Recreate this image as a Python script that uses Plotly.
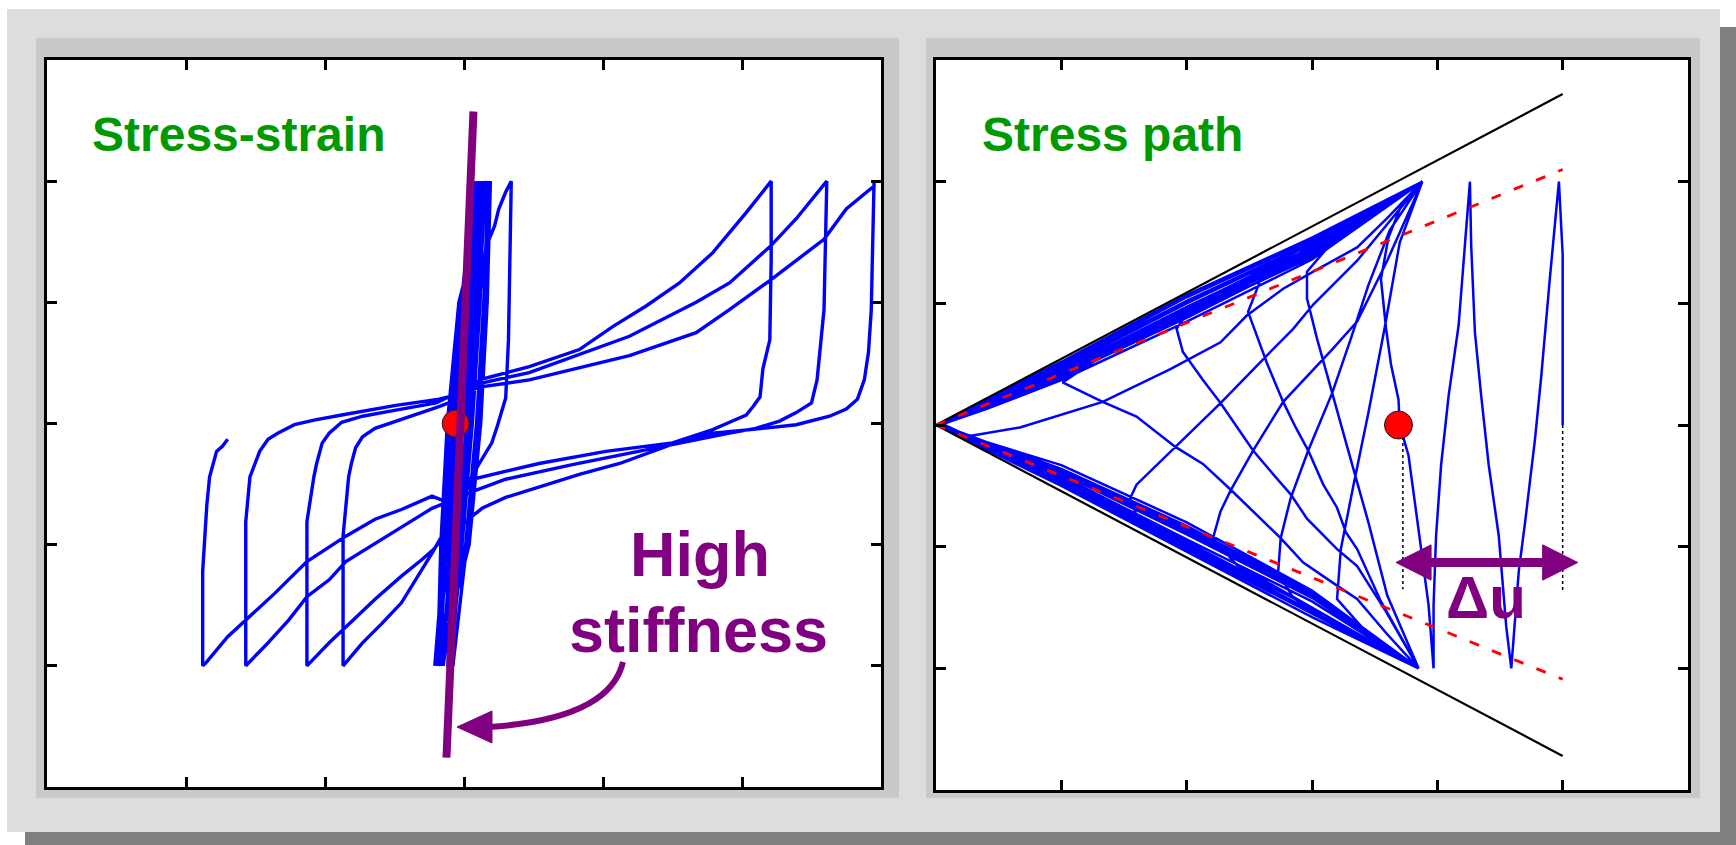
import plotly.graph_objects as go

FIG_W, FIG_H = 1736, 845

# ---------------- Stress-strain panel: shear strain vs shear stress ----------------
# early, small-strain cycles (stiff core of the response)
core_strain = [0.000, 0.065, 0.130,
               0.031, -0.040, -0.099, -0.150,
               -0.022, 0.050, 0.108, 0.155,
               -0.003, -0.080, -0.133, -0.170,
               0.012, 0.090, 0.142, 0.175,
               -0.029, -0.110, -0.159, -0.185,
               0.037, 0.120, 0.167, 0.190,
               -0.037, -0.120, -0.167, -0.190,
               -0.048, 0.020, 0.082, 0.140,
               0.116, 0.060, -0.014, -0.100,
               -0.116, -0.060, 0.014, 0.100,
               0.150, 0.100, 0.020, -0.080,
               -0.150, -0.100, -0.020, 0.080,
               0.090, 0.030, -0.040, -0.115,
               -0.082, -0.020, 0.048, 0.120,
               0.006, -0.070, -0.125, -0.210,
               -0.140, -0.070]
core_stress = [0.0, 1.0, 2.0,
               1.0, 0.0, -1.0, -2.0,
               -1.0, 0.0, 1.0, 2.0,
               1.0, 0.0, -1.0, -2.0,
               -1.0, 0.0, 1.0, 2.0,
               1.0, 0.0, -1.0, -2.0,
               -1.0, 0.0, 1.0, 2.0,
               1.0, 0.0, -1.0, -2.0,
               -1.0, 0.0, 1.0, 2.0,
               1.0, 0.0, -1.0, -2.0,
               -1.0, 0.0, 1.0, 2.0,
               1.0, 0.0, -1.0, -2.0,
               -1.0, 0.0, 1.0, 2.0,
               1.0, 0.0, -1.0, -2.0,
               -1.0, 0.0, 1.0, 2.0,
               1.0, 0.0, -1.0, -2.0,
               -1.0, 0.0]

loop0_strain = [-0.07, 0.06, 0.12, 0.17, 0.22, 0.25, 0.30, 0.34,
                0.33, 0.32, 0.30, 0.27, 0.24, 0.20, 0.14, 0.11,
                0.00, -0.12, -0.23, -0.33, -0.45, -0.59, -0.73, -0.87,
                -0.87, -0.83, -0.81, -0.78, -0.73, -0.64, -0.49, -0.30, -0.18, 0.00, 0.11]
loop0_stress = [0.00, 0.60, 1.20, 1.49, 1.63, 1.77, 1.91, 2.00,
                1.30, 0.69, 0.21, 0.09, -0.02, -0.16, -0.27, -0.33,
                -0.55, -0.85, -1.07, -1.26, -1.48, -1.65, -1.81, -2.00,
                -0.93, -0.44, -0.33, -0.20, -0.11, -0.04, 0.02, 0.09, 0.14, 0.22, 0.36]

loop1_strain = [0.11, 0.47, 0.83, 1.07, 1.31, 1.55, 1.79, 2.03, 2.21,
                2.21, 2.20, 2.15, 2.13, 2.08, 2.03, 1.91, 1.79, 1.50, 1.02, 0.54, 0.06,
                -0.05, -0.12, -0.22, -0.30, -0.45, -0.64, -0.85, -0.97, -1.13,
                -1.13, -1.08, -1.06, -1.02, -0.97, -0.88, -0.73, -0.54, -0.35, -0.20, 0.00, 0.11]
loop1_stress = [0.36, 0.47, 0.61, 0.80, 0.97, 1.16, 1.41, 1.74, 2.00,
                1.36, 0.69, 0.45, 0.22, 0.14, 0.07, 0.01, -0.05, -0.16, -0.23, -0.33, -0.46,
                -0.70, -0.90, -1.04, -1.12, -1.26, -1.45, -1.68, -1.81, -2.00,
                -0.81, -0.44, -0.33, -0.16, -0.08, 0.01, 0.06, 0.10, 0.14, 0.17, 0.28, 0.33]

loop2_strain = [0.11, 0.47, 1.19, 1.67, 1.91, 2.21, 2.39, 2.61,
                2.59, 2.56, 2.54, 2.50, 2.39, 2.27, 2.10, 1.91, 1.26, 0.78, 0.30, 0.04,
                -0.10, -0.23, -0.40, -0.64, -0.85, -0.97, -1.13, -1.26, -1.41, -1.57,
                -1.57, -1.54, -1.50, -1.47, -1.41, -1.34, -1.22, -1.07, -0.88, -0.73,
                -0.61, -0.49, -0.30, -0.18, 0.00, 0.11]
loop2_stress = [0.33, 0.42, 0.72, 1.00, 1.16, 1.47, 1.69, 2.00,
                0.94, 0.59, 0.36, 0.17, 0.09, 0.02, -0.04, -0.08, -0.23, -0.34, -0.46, -0.57,
                -0.64, -0.70, -0.82, -0.99, -1.14, -1.29, -1.43, -1.62, -1.81, -2.00,
                -0.81, -0.44, -0.33, -0.23, -0.13, -0.08, -0.01, 0.03, 0.07, 0.10,
                0.13, 0.15, 0.18, 0.20, 0.25, 0.30]

loop3_strain = [0.11, 0.47, 1.19, 1.67, 1.91, 2.20, 2.59, 2.75, 2.95, 2.95,
                2.93, 2.91, 2.88, 2.83, 2.75, 2.63, 2.39, 2.15, 1.79, 1.50, 1.12, 0.83,
                0.54, 0.30, 0.13, 0.01,
                -0.10, -0.23, -0.45, -0.64, -0.85, -1.13, -1.36, -1.56, -1.70, -1.86, -1.88,
                -1.88, -1.85, -1.83, -1.80, -1.78, -1.74, -1.70]
loop3_stress = [0.30, 0.36, 0.56, 0.75, 0.94, 1.18, 1.52, 1.77, 1.96, 2.00,
                0.94, 0.59, 0.36, 0.20, 0.12, 0.06, -0.01, -0.04, -0.08, -0.17, -0.33, -0.42,
                -0.52, -0.61, -0.70, -0.81,
                -0.66, -0.60, -0.71, -0.79, -0.93, -1.14, -1.40, -1.61, -1.76, -1.98, -2.00,
                -1.22, -0.67, -0.44, -0.32, -0.23, -0.19, -0.13]

# marked state and the tangent stiffness through it
state_strain, state_stress = -0.06, 0.0
stiffness_strain = [0.068, -0.126]
stiffness_stress = [2.575, -2.758]

# ---------------- Stress-path panel: mean effective stress p' vs deviator q ----------------
early_p = [5.00, 5.00, 4.97, 4.94, 4.90, 4.83, 4.78, 4.70, 4.65, 4.59,
           4.55, 4.49, 4.41, 4.35, 4.30, 4.27, 4.26, 4.22, 4.17, 4.09, 4.03, 3.99, 3.97, 3.97,
           3.93, 3.85, 3.77, 3.70, 3.69, 3.63, 3.59, 3.55, 3.61, 3.71, 3.88]
early_q = [0.00, 1.40, 2.00, 1.69, 1.23, 0.41, -0.11, -0.80, -1.20, -2.00,
           -1.66, -0.91, -0.33, 0.24, 0.76, 1.48, 2.00, 1.48, 0.82, 0.24, -0.33, -0.91, -1.48, -2.00,
           -1.48, -0.86, -0.25, 0.00, 0.21, 0.50, 0.80, 1.20, 1.54, 1.80, 2.00]

lattice_p = [3.50, 3.20, 2.96, 2.96, 3.04, 3.16, 3.30, 3.45, 3.60, 3.85,
             3.50, 3.20, 3.23, 3.33, 3.45, 3.58, 3.70, 3.88,
             3.30, 2.80, 2.60, 2.49, 2.56, 2.64, 2.77, 2.87, 2.97, 3.09, 3.20, 3.27, 3.36, 3.55, 3.85,
             3.30, 2.85, 2.73, 2.75, 2.83, 2.97, 3.16, 3.31, 3.45, 3.62, 3.88,
             3.20, 2.50, 2.05, 1.92, 1.97, 2.13, 2.27, 2.40, 2.53, 2.67, 2.83, 2.96, 3.20, 3.36, 3.60, 3.85,
             3.00, 2.40, 2.21, 2.27, 2.35, 2.53, 2.77, 3.16, 3.36, 3.60, 3.88,
             3.00, 2.00, 1.30, 1.01, 1.33, 1.60, 1.91, 2.13, 2.35, 2.75, 2.93, 3.20, 3.36, 3.60, 3.85,
             3.00, 2.00, 1.62, 1.55, 1.60, 1.91, 2.27, 2.61, 2.85, 3.01, 3.36, 3.60, 3.88]
lattice_q = [1.78, 1.55, 1.26, 1.04, 0.71, 0.26, -0.25, -0.80, -1.40, -2.00,
             -1.78, -1.43, -1.02, -0.50, 0.10, 0.80, 1.50, 2.00,
             1.66, 1.35, 1.22, 0.93, 0.74, 0.51, 0.19, -0.02, -0.21, -0.49, -0.68, -0.88, -1.02, -1.45, -2.00,
             -1.72, -1.42, -1.21, -0.93, -0.60, -0.21, 0.26, 0.71, 1.15, 1.60, 2.00,
             1.60, 1.22, 0.99, 0.79, 0.60, 0.37, 0.18, -0.02, -0.21, -0.38, -0.57, -0.77, -1.02, -1.16, -1.55, -2.00,
             -1.50, -1.15, -0.93, -0.71, -0.54, -0.21, 0.19, 0.62, 0.85, 1.35, 2.00,
             1.45, 0.90, 0.55, 0.35, 0.19, 0.07, -0.18, -0.32, -0.53, -0.93, -1.13, -1.32, -1.43, -1.72, -2.00,
             -1.55, -1.00, -0.80, -0.60, -0.49, -0.18, 0.18, 0.54, 0.79, 0.99, 1.35, 1.65, 2.00]

butterfly_p = [3.00, 2.00, 1.00, 0.40, 0.05, 0.40, 1.00, 2.00, 3.00, 3.85,
               3.00, 2.00, 1.00, 0.45, 0.21, 0.67, 1.07, 1.33, 1.87, 2.27, 2.48, 2.77, 3.01, 3.36, 3.60, 3.88,
               3.00, 2.00, 1.00, 0.40, 0.04, 0.40, 1.00, 2.00, 3.00, 3.85,
               3.00, 2.00, 1.00, 0.40, 0.04, 0.40, 1.00, 2.00, 3.00, 3.88,
               3.00, 2.00, 1.00, 0.40, 0.03, 0.40, 1.00, 2.00, 3.00, 3.85,
               3.00, 2.00, 1.00, 0.40, 0.03, 0.40, 1.00, 2.00, 3.00, 3.88,
               3.00, 2.00, 1.00, 0.40, 0.03, 0.40, 1.00, 2.00, 3.00, 3.85,
               3.00, 2.00, 1.00, 0.40, 0.03, 0.40, 1.00, 2.00, 3.00, 3.88,
               3.00, 2.00, 1.00, 0.40, 0.03, 0.40, 1.00, 2.00, 3.00, 3.85,
               3.00, 2.00, 1.00, 0.40, 0.03, 0.40, 1.00, 2.00, 3.00, 3.88,
               3.00, 2.00, 1.00, 0.40, 0.03, 0.40, 1.00, 2.00, 3.00, 3.85,
               3.00, 2.00, 1.00, 0.40, 0.03, 0.40, 1.00, 2.00, 3.00, 3.88,
               3.00, 2.00, 1.00, 0.40, 0.03, 0.40, 1.00, 2.00, 3.00, 3.85]
butterfly_q = [1.52, 1.05, 0.50, 0.19, 0.01, -0.16, -0.40, -0.90, -1.42, -2.00,
               -1.50, -0.98, -0.45, -0.22, -0.10, -0.02, 0.11, 0.19, 0.46, 0.68, 0.90, 1.12, 1.26, 1.46, 1.70, 2.00,
               1.40, 0.88, 0.40, 0.15, 0.00, -0.20, -0.48, -1.02, -1.55, -2.00,
               -1.38, -0.84, -0.36, -0.14, 0.00, 0.17, 0.45, 0.97, 1.46, 2.00,
               1.54, 1.07, 0.52, 0.21, 0.00, -0.18, -0.44, -0.96, -1.50, -2.00,
               -1.58, -1.04, -0.50, -0.20, 0.00, 0.13, 0.37, 0.85, 1.36, 2.00,
               1.45, 0.95, 0.44, 0.17, 0.00, -0.14, -0.33, -0.80, -1.36, -2.00,
               -1.45, -0.94, -0.42, -0.17, 0.00, 0.19, 0.49, 1.02, 1.50, 2.00,
               1.38, 0.90, 0.39, 0.15, 0.00, -0.17, -0.38, -0.86, -1.40, -2.00,
               -1.53, -1.00, -0.47, -0.19, 0.00, 0.15, 0.41, 0.91, 1.42, 2.00,
               1.49, 1.00, 0.47, 0.18, 0.00, -0.19, -0.46, -0.99, -1.53, -2.00,
               -1.41, -0.88, -0.38, -0.15, 0.00, 0.20, 0.51, 1.05, 1.52, 2.00,
               1.43, 0.93, 0.42, 0.16, 0.00, -0.15, -0.36, -0.83, -1.38, -2.00]

failure_p = [0.0, 5.0]
failure_q_upper = [0.0, 2.72]
failure_q_lower = [0.0, -2.72]
transform_p = [0.0, 5.0]
transform_q_upper = [0.0, 2.10]
transform_q_lower = [0.0, -2.09]

state_p, state_q = 3.69, 0.0
initial_p = 5.0
du_marker_p = [3.725, 5.0]
du_marker_q_top = [-0.05, 0.0]
du_marker_q_bottom = [-1.35, -1.38]
du_arrow_q = -1.13

BLUE, RED, PURPLE, GREEN = "#0000ff", "#ff0000", "#800080", "#009900"


def px_x(px):
    return px / FIG_W


def px_y(py):
    return 1 - py / FIG_H


def line_trace(x, y, axis, color, width, dash="solid"):
    return go.Scatter(x=x, y=y, mode="lines", xaxis="x" + axis, yaxis="y" + axis,
                      line=dict(color=color, width=width, dash=dash),
                      hoverinfo="skip", showlegend=False)


ax_l, ax_r = "", "2"
fig = go.Figure()

# stress-strain curve
ss_strain = core_strain + loop0_strain + loop1_strain + loop2_strain + loop3_strain
ss_stress = core_stress + loop0_stress + loop1_stress + loop2_stress + loop3_stress
fig.add_trace(line_trace(ss_strain, ss_stress, ax_l, BLUE, 3.4))
fig.add_trace(go.Scatter(x=[state_strain], y=[state_stress], mode="markers", xaxis="x", yaxis="y",
                         marker=dict(size=27, color=RED, line=dict(color="#202020", width=1)),
                         hoverinfo="skip", showlegend=False))
fig.add_trace(line_trace(stiffness_strain, stiffness_stress, ax_l, PURPLE, 8))

# stress path
path_p = early_p + lattice_p + butterfly_p
path_q = early_q + lattice_q + butterfly_q
fig.add_trace(line_trace(path_p, path_q, ax_r, BLUE, 2.5))
fig.add_trace(line_trace(failure_p, failure_q_upper, ax_r, "#000000", 2.2))
fig.add_trace(line_trace(failure_p, failure_q_lower, ax_r, "#000000", 2.2))
fig.add_trace(line_trace(transform_p, transform_q_upper, ax_r, RED, 2.8, "10px,14px"))
fig.add_trace(line_trace(transform_p, transform_q_lower, ax_r, RED, 2.8, "10px,14px"))
for p, q0, q1 in zip(du_marker_p, du_marker_q_top, du_marker_q_bottom):
    fig.add_trace(line_trace([p, p], [q0, q1], ax_r, "#000000", 1.5, "dot"))
fig.add_trace(go.Scatter(x=[state_p], y=[state_q], mode="markers", xaxis="x2", yaxis="y2",
                         marker=dict(size=28, color=RED, line=dict(color="#202020", width=1)),
                         hoverinfo="skip", showlegend=False))

# ---------------- background panels ----------------
def rect(x0, y0, x1, y1, color):
    return dict(type="rect", xref="paper", yref="paper", layer="below",
                x0=px_x(x0), x1=px_x(x1), y0=px_y(y1), y1=px_y(y0),
                fillcolor=color, line=dict(width=0))


LEFT_BOX = (47, 60, 881, 787)
RIGHT_BOX = (936, 60, 1688, 790)

shapes = [
    rect(25, 27, 1736, 845, "#808080"),
    rect(7, 9, 1720, 832, "#dddddd"),
    rect(36, 38, 899, 798, "#c9c9c9"),
    rect(926, 38, 1700, 798, "#c9c9c9"),
    rect(*LEFT_BOX, "#ffffff"),
    rect(*RIGHT_BOX, "#ffffff"),
]

# curved pointer from the "High stiffness" label
def pxpath(cmds):
    out = []
    for c in cmds:
        if isinstance(c, str):
            out.append(c)
        else:
            out.append(f"{px_x(c[0]):.5f},{px_y(c[1]):.5f}")
    return " ".join(out)


shapes.append(dict(type="path", xref="paper", yref="paper", layer="above",
                   path=pxpath(["M", (623, 662), "Q", (609.5, 719), (489, 727)]),
                   line=dict(color=PURPLE, width=6)))
shapes.append(dict(type="path", xref="paper", yref="paper", layer="above",
                   path=pxpath(["M", (457, 727), "L", (492, 711), "L", (492, 743), "Z"]),
                   fillcolor=PURPLE, line=dict(color=PURPLE, width=1)))

# double arrow for the excess pore pressure
head_len, head_half = 0.28, 0.145
a_left, a_right = state_p - 0.02, initial_p + 0.12
shapes.append(dict(type="line", xref="x2", yref="y2", layer="above",
                   x0=a_left + 0.2, x1=a_right - 0.2, y0=du_arrow_q, y1=du_arrow_q,
                   line=dict(color=PURPLE, width=9)))
shapes.append(dict(type="path", xref="x2", yref="y2", layer="above",
                   path=f"M {a_left},{du_arrow_q} L {a_left + head_len},{du_arrow_q + head_half} "
                        f"L {a_left + head_len},{du_arrow_q - head_half} Z",
                   fillcolor=PURPLE, line=dict(color=PURPLE, width=1)))
shapes.append(dict(type="path", xref="x2", yref="y2", layer="above",
                   path=f"M {a_right},{du_arrow_q} L {a_right - head_len},{du_arrow_q + head_half} "
                        f"L {a_right - head_len},{du_arrow_q - head_half} Z",
                   fillcolor=PURPLE, line=dict(color=PURPLE, width=1)))

FONT = "Liberation Sans, Arial, Helvetica, sans-serif"


def label(text, x, y, size, color, xanchor="left"):
    return dict(text=f"<b>{text}</b>", x=px_x(x), y=px_y(y), xref="paper", yref="paper",
                xanchor=xanchor, yanchor="top", showarrow=False,
                font=dict(family=FONT, size=size, color=color))


annotations = [
    label("Stress-strain", 90, 106, 48, GREEN),
    label("Stress path", 980, 106, 48, GREEN),
    label("High", 700, 517, 63, PURPLE, "center"),
    label("stiffness", 698, 593, 63, PURPLE, "center"),
    label("\u0394u", 1444, 562, 60, PURPLE),
]


def axis(domain, rng, ticks, anchor):
    return dict(domain=domain, range=rng, tickvals=ticks, ticks="inside", ticklen=10,
                tickwidth=3, tickcolor="#000000", showticklabels=False, showline=True,
                linewidth=3, linecolor="#000000", mirror="ticks", showgrid=False,
                zeroline=False, fixedrange=True, anchor=anchor)


fig.update_layout(
    width=FIG_W, height=FIG_H, autosize=False,
    margin=dict(l=0, r=0, t=0, b=0),
    paper_bgcolor="#ffffff", plot_bgcolor="rgba(0,0,0,0)",
    showlegend=False, hovermode=False,
    xaxis=axis([px_x(LEFT_BOX[0]), px_x(LEFT_BOX[2])], [-3, 3], [-2, -1, 0, 1, 2], "y"),
    yaxis=axis([px_y(LEFT_BOX[3]), px_y(LEFT_BOX[1])], [-3, 3], [-2, -1, 0, 1, 2], "x"),
    xaxis2=axis([px_x(RIGHT_BOX[0]), px_x(RIGHT_BOX[2])], [0, 6], [1, 2, 3, 4, 5], "y2"),
    yaxis2=axis([px_y(RIGHT_BOX[3]), px_y(RIGHT_BOX[1])], [-3, 3], [-2, -1, 0, 1, 2], "x2"),
    shapes=shapes,
    annotations=annotations,
)

fig.write_html("out.html", config={"displayModeBar": False})
